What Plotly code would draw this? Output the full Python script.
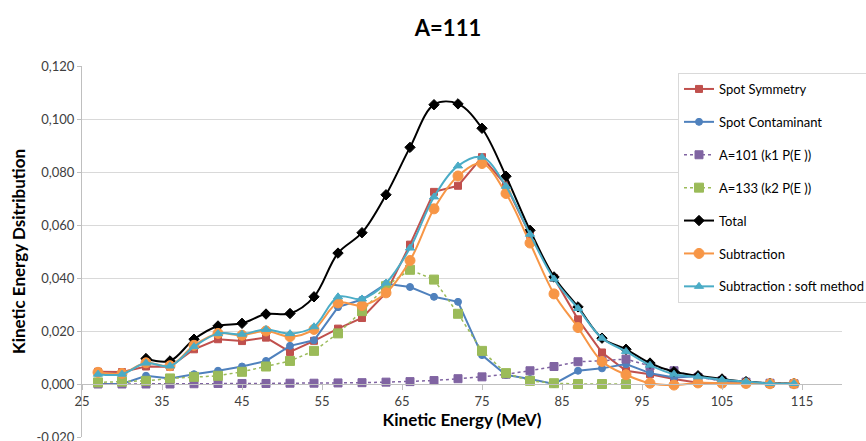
import plotly.graph_objects as go

energy = [27, 30, 33, 36, 39, 42, 45, 48, 51, 54, 57, 60, 63, 66, 69, 72, 75, 78, 81, 84,
          87, 90, 93, 96, 99, 102, 105, 108, 111, 114]

spot_symmetry = [0.0046, 0.0045, 0.0066, 0.0065, 0.0131, 0.0169, 0.0162, 0.0175, 0.0121, 0.0163,
                 0.0209, 0.0249, 0.0344, 0.0526, 0.0725, 0.0748, 0.0856, 0.0750, 0.0563, 0.0400,
                 0.0244, 0.0119, 0.0050, 0.0037, 0.0019, 0.0005, 0.0003, 0.0002, 0.0001, 0.0000]

spot_contaminant = [0.0000, 0.0000, 0.0031, 0.0021, 0.0037, 0.0050, 0.0066, 0.0087, 0.0144, 0.0165,
                    0.0290, 0.0319, 0.0378, 0.0366, 0.0329, 0.0310, 0.0109, 0.0034, 0.0019, 0.0000,
                    0.0050, 0.0059, 0.0075, 0.0041, 0.0025, 0.0029, 0.0012, 0.0005, 0.0001, 0.0000]

a101 = [0.0000, 0.0000, 0.0000, 0.0000, 0.0001, 0.0002, 0.0002, 0.0002, 0.0003, 0.0003,
        0.0004, 0.0005, 0.0007, 0.0009, 0.0013, 0.0020, 0.0027, 0.0037, 0.0050, 0.0066,
        0.0084, 0.0088, 0.0094, 0.0068, 0.0050, 0.0025, 0.0013, 0.0007, 0.0003, 0.0001]

a133 = [0.0006, 0.0009, 0.0012, 0.0021, 0.0027, 0.0031, 0.0046, 0.0066, 0.0087, 0.0125,
        0.0191, 0.0275, 0.0369, 0.0431, 0.0394, 0.0265, 0.0125, 0.0041, 0.0012, 0.0003,
        0.0000, 0.0000, 0.0000, None, None, None, None, None, None, None]

total = [None, None, 0.0096, 0.0087, 0.0169, 0.0219, 0.0229, 0.0264, 0.0266, 0.0329,
         0.0494, 0.0571, 0.0714, 0.0893, 0.1054, 0.1057, 0.0965, 0.0784, 0.0580, 0.0404,
         0.0291, 0.0173, 0.0131, 0.0079, 0.0046, 0.0031, 0.0019, 0.0009, 0.0003, 0.0002]

subtraction = [0.0044, 0.0040, 0.0080, 0.0069, 0.0146, 0.0191, 0.0184, 0.0200, 0.0179, 0.0206,
               0.0306, 0.0296, 0.0344, 0.0466, 0.0661, 0.0785, 0.0832, 0.0719, 0.0532, 0.0340,
               0.0213, 0.0085, 0.0035, 0.0003, -0.0004, 0.0004, 0.0003, 0.0002, 0.0001, 0.0001]

subtraction_soft = [0.0037, 0.0037, 0.0079, 0.0068, 0.0141, 0.0190, 0.0188, 0.0206, 0.0190, 0.0216,
                    0.0329, 0.0321, 0.0381, 0.0513, 0.0706, 0.0823, 0.0856, 0.0746, 0.0565, 0.0396,
                    0.0285, 0.0173, 0.0123, 0.0071, 0.0037, 0.0027, 0.0016, 0.0009, 0.0002, 0.0002]

series_names = ["Spot Symmetry", "Spot Contaminant", "A=101 (k1 P(E ))", "A=133 (k2 P(E ))",
                "Total", "Subtraction", "Subtraction : soft method"]

x_tick_vals = [25, 35, 45, 55, 65, 75, 85, 95, 105, 115]
y_tick_vals = [-0.02, 0.0, 0.02, 0.04, 0.06, 0.08, 0.10, 0.12]
y_tick_text = ["-0,020", "0,000", "0,020", "0,040", "0,060", "0,080", "0,100", "0,120"]

FONT = "Lato, 'Open Sans', sans-serif"

styles = [
    dict(data=spot_symmetry, color="#C0504D", symbol="square", size=7, dash="solid", shape="linear", width=2),
    dict(data=spot_contaminant, color="#4F81BD", symbol="circle", size=7, dash="solid", shape="linear", width=2),
    dict(data=a101, color="#8064A2", symbol="square", size=8, dash="dot", shape="linear", width=1.5),
    dict(data=a133, color="#9BBB59", symbol="square", size=9, dash="dot", shape="linear", width=1.5),
    dict(data=total, color="#000000", symbol="diamond", size=8, dash="solid", shape="spline", width=2),
    dict(data=subtraction, color="#F79646", symbol="circle", size=10, dash="solid", shape="spline", width=2),
    dict(data=subtraction_soft, color="#4BACC6", symbol="triangle-up", size=8, dash="solid", shape="spline", width=2),
]

fig = go.Figure()
for i, (name, st) in enumerate(zip(series_names, styles)):
    fig.add_trace(go.Scatter(
        x=energy, y=st["data"], name=name, mode="lines+markers",
        legendgroup=f"g{i}",
        line=dict(color=st["color"], width=st["width"], dash=st["dash"], shape=st["shape"]),
        marker=dict(symbol=st["symbol"], size=st["size"], color=st["color"],
                    line=dict(color=st["color"], width=1)),
        connectgaps=False,
    ))

ymin, ymax = -0.02, 0.12
plot_top, plot_bottom = 66, 437

fig.update_layout(
    width=866, height=441,
    margin=dict(l=82, r=24, t=plot_top, b=441 - plot_bottom, autoexpand=False),
    paper_bgcolor="white", plot_bgcolor="white",
    font=dict(family=FONT, size=13, color="#404040"),
    title=dict(text="<b>A=111</b>", x=448 / 866, xanchor="center", y=1 - 28 / 441, yanchor="middle",
               font=dict(family=FONT, size=22, color="#000000")),
    showlegend=True,
    legend=dict(x=(678 - 82) / 760, xanchor="left",
                y=(plot_bottom - 73) / (plot_bottom - plot_top), yanchor="top",
                bgcolor="white", bordercolor="#D9D9D9", borderwidth=1,
                font=dict(family=FONT, size=13, color="#000000"),
                traceorder="grouped", tracegroupgap=13, itemwidth=30),
    xaxis=dict(range=[25, 120], tickvals=x_tick_vals, showgrid=False, zeroline=False,
               anchor="free", position=(0 - ymin) / (ymax - ymin), automargin=False,
               showline=True, linecolor="#BFBFBF", linewidth=1,
               ticks="outside", ticklen=5, tickcolor="#BFBFBF",
               tickfont=dict(family=FONT, size=13, color="#404040"),
               title=dict(text="<b>Kinetic Energy (MeV)</b>", standoff=2,
                          font=dict(family=FONT, size=17, color="#000000"))),
    yaxis=dict(range=[ymin, ymax], tickvals=y_tick_vals, ticktext=y_tick_text, automargin=False,
               ticklabeloverflow="allow",
               showgrid=True, gridcolor="#D9D9D9", gridwidth=1, zeroline=False,
               showline=True, linecolor="#BFBFBF", linewidth=1,
               ticks="outside", ticklen=4, tickcolor="#BFBFBF",
               tickfont=dict(family=FONT, size=13, color="#404040"),
               title=dict(text="<b>Kinetic Energy Dsitribution</b>", standoff=6,
                          font=dict(family=FONT, size=17, color="#000000"))),
)

fig.write_html("out.html", config={"displayModeBar": False},
               post_script="document.body.style.margin='0';")
